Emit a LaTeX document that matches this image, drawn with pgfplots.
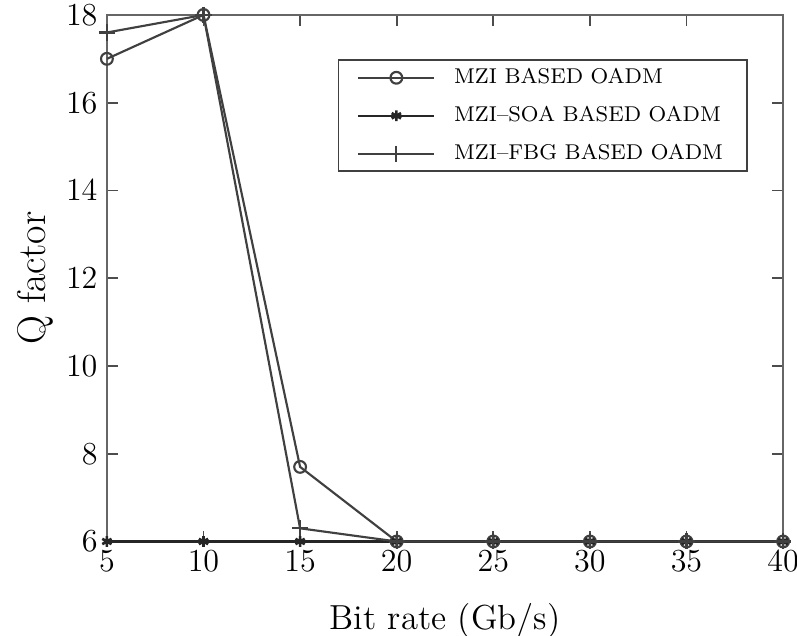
\documentclass[border=0pt]{standalone}
\usepackage{pgfplots}
\pgfplotsset{compat=1.18}

\begin{document}
\begin{tikzpicture}
\begin{axis}[
    width=253pt, height=197pt,
    scale only axis,
    xmin=5, xmax=40, ymin=6, ymax=18,
    xtick={5,10,...,40},
    ytick={6,8,...,18},
    tick align=inside,
    tick style={black!70, line width=0.6pt},
    major tick length=4pt,
    axis line style={black!60, line width=1pt},
    xlabel={Bit rate (Gb/s)},
    ylabel={Q factor},
    xlabel style={font=\fontsize{13}{15}\selectfont, yshift=-5pt},
    ylabel style={font=\fontsize{15}{17}\selectfont, yshift=-2pt},
    ticklabel style={font=\large},
    clip=false,
    legend style={at={(0.948,0.916)}, anchor=north east,
        draw=black!75, line width=0.7pt, font=\footnotesize,
        row sep=3pt, inner xsep=7pt, inner ysep=1pt,
        /tikz/every odd column/.append style={column sep=5pt}},
    legend cell align=left,
    legend image code/.code={
        \draw[#1] (0cm,0cm) -- (0.5cm,0cm);
        \draw[#1, mark repeat=2, mark phase=2] plot coordinates {(0cm,0cm) (0.5cm,0cm) (1cm,0cm)};
        \draw[#1] (0.5cm,0cm) -- (1cm,0cm);
    },
]
\addplot[black!75, line width=0.8pt, mark=o, mark size=2.2pt,
    mark options={solid, line width=0.8pt}]
    coordinates {(5,17) (10,18) (15,7.7) (20,6) (25,6) (30,6) (35,6) (40,6)};
\addlegendentry{MZI BASED OADM}
\addplot[black!85, line width=0.8pt, mark=asterisk, mark size=2pt,
    mark options={solid, line width=1pt}]
    coordinates {(5,6) (10,6) (15,6) (20,6) (25,6) (30,6) (35,6) (40,6)};
\addlegendentry{MZI--SOA BASED OADM}
\addplot[black!75, line width=0.8pt, mark=+, mark size=3pt,
    mark options={solid, line width=0.8pt}]
    coordinates {(5,17.6) (10,18) (15,6.3) (20,6) (25,6) (30,6) (35,6) (40,6)};
\addlegendentry{MZI--FBG BASED OADM}
\coordinate (bl) at (rel axis cs:0,0);
\coordinate (tr) at (rel axis cs:1,1);
\end{axis}
\pgfresetboundingbox
\path ([xshift=-40pt,yshift=-35.2pt]bl) rectangle ([xshift=5.2pt,yshift=5.6pt]tr);
\end{tikzpicture}
\end{document}
